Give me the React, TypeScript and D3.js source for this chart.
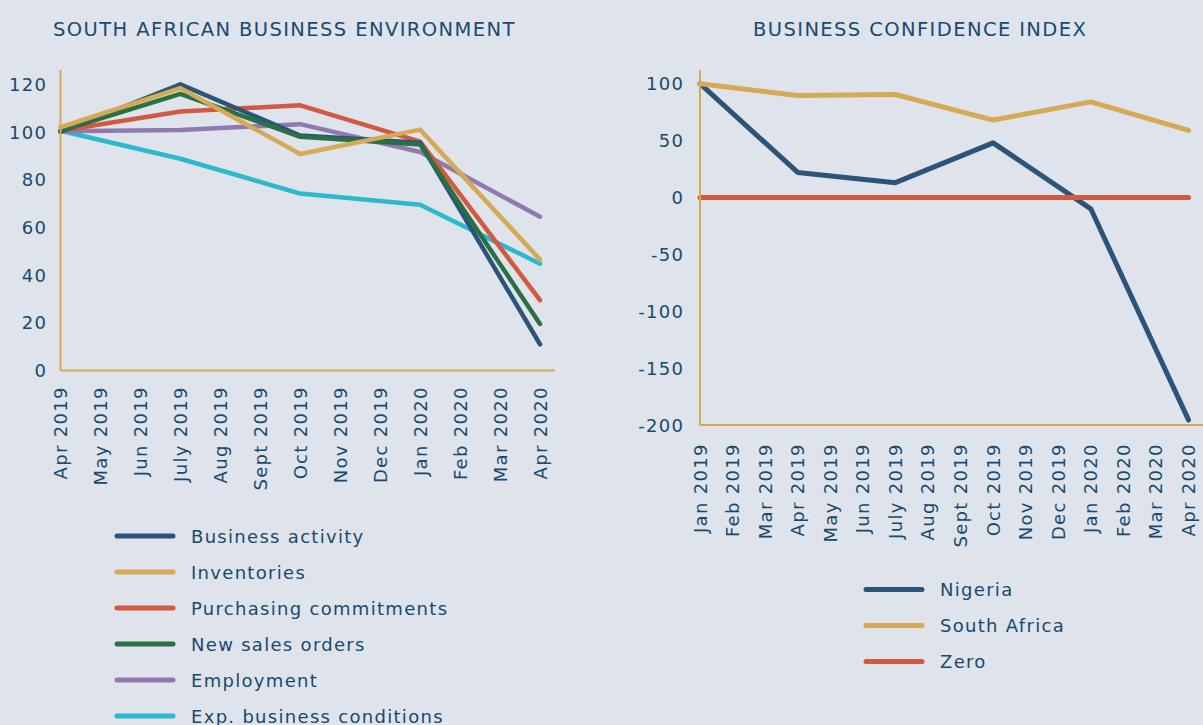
import React from "react";
import * as d3 from "d3";

const leftMonths = ["Apr 2019","May 2019","Jun 2019","July 2019","Aug 2019","Sept 2019","Oct 2019","Nov 2019","Dec 2019","Jan 2020","Feb 2020","Mar 2020","Apr 2020"];
const leftTicks = [0, 20, 40, 60, 80, 100, 120];
const businessActivity = [100, null, null, 120, null, null, 98.5, null, null, 95.5, null, null, 11];
const inventories = [102, null, null, 118.4, null, null, 90.8, null, null, 101, null, null, 46.5];
const purchasing = [100.5, null, null, 108.6, null, null, 111.2, null, null, 96, null, null, 29.5];
const newSales = [100.5, null, null, 116, null, null, 98, null, null, 94.8, null, null, 19.5];
const employment = [100.3, null, null, 100.8, null, null, 103.3, null, null, 91.6, null, null, 64.5];
const expConditions = [100.5, null, null, 88.8, null, null, 74.2, null, null, 69.5, null, null, 44.8];
const leftSeriesNames = ["Business activity","Inventories","Purchasing commitments","New sales orders","Employment","Exp. business conditions"];

const rightMonths = ["Jan 2019","Feb 2019","Mar 2019","Apr 2019","May 2019","Jun 2019","July 2019","Aug 2019","Sept 2019","Oct 2019","Nov 2019","Dec 2019","Jan 2020","Feb 2020","Mar 2020","Apr 2020"];
const rightTicks = [-200, -150, -100, -50, 0, 50, 100];
const nigeria = [100, null, null, 22, null, null, 13, null, null, 48, null, null, -10, null, null, -195.5];
const southAfrica = [100, null, null, 89.5, null, null, 90.5, null, null, 68, null, null, 84, null, null, 59];
const zero = [0, 0, 0, 0, 0, 0, 0, 0, 0, 0, 0, 0, 0, 0, 0, 0];
const rightSeriesNames = ["Nigeria", "South Africa", "Zero"];

const C = {
  bg: "#dfe3eb",
  text: "#184a70",
  axis: "#d4aa56",
  blue: "#2c5479",
  gold: "#d4aa56",
  red: "#d15a40",
  green: "#2a7045",
  purple: "#9179b0",
  cyan: "#2bb9cd",
};
const FONT = "'DejaVu Sans', sans-serif";
const LS = 1.3;

type Pt = { x: string; v: number };

function pts(months: string[], vals: (number | null)[]): Pt[] {
  return months.map((m, i) => ({ x: m, v: vals[i] as number })).filter((d) => d.v !== null);
}

export default function App() {
  const xL = d3.scalePoint<string>().domain(leftMonths).range([60.5, 540]);
  const yL = d3.scaleLinear().domain([0, 126]).range([370.5, 70]);
  const lineL = d3.line<Pt>().x((d) => xL(d.x) as number).y((d) => yL(d.v));
  const leftSeries = [
    { name: leftSeriesNames[0], vals: businessActivity, color: C.blue },
    { name: leftSeriesNames[1], vals: inventories, color: C.gold },
    { name: leftSeriesNames[2], vals: purchasing, color: C.red },
    { name: leftSeriesNames[3], vals: newSales, color: C.green },
    { name: leftSeriesNames[4], vals: employment, color: C.purple },
    { name: leftSeriesNames[5], vals: expConditions, color: C.cyan },
  ];
  const drawOrderL = [5, 4, 2, 0, 3, 1];

  const xR = d3.scalePoint<string>().domain(rightMonths).range([700, 1188.5]);
  const yR = d3.scaleLinear().domain([-200, 112]).range([425, 70]);
  const lineR = d3.line<Pt>().x((d) => xR(d.x) as number).y((d) => yR(d.v));
  const rightSeries = [
    { name: rightSeriesNames[0], vals: nigeria, color: C.blue },
    { name: rightSeriesNames[1], vals: southAfrica, color: C.gold },
    { name: rightSeriesNames[2], vals: zero, color: C.red },
  ];

  return (
    <svg width={1203} height={725} style={{ position: "absolute", left: 0, top: 0, background: C.bg }} fontFamily={FONT}>
      <rect x={0} y={0} width={1203} height={725} fill={C.bg} />
      <text x={53} y={36} fontSize={19.5} letterSpacing={1.4} fill={C.text}>SOUTH AFRICAN BUSINESS ENVIRONMENT</text>
      <text x={753} y={36} fontSize={19.5} letterSpacing={1.4} fill={C.text}>BUSINESS CONFIDENCE INDEX</text>

      <g>
        {leftTicks.map((t) => (
          <text key={t} x={46 + LS} y={yL(t)} fontSize={18} letterSpacing={LS} fill={C.text} textAnchor="end" dominantBaseline="central">{t}</text>
        ))}
        {leftMonths.map((m) => (
          <text key={m} transform={`translate(${xL(m)},${385 + LS}) rotate(-90)`} fontSize={18} letterSpacing={LS} fill={C.text} textAnchor="end" dominantBaseline="central">{m}</text>
        ))}
        {drawOrderL.map((i) => {
          const s = leftSeries[i];
          return (
            <path key={s.name} d={lineL(pts(leftMonths, s.vals)) || ""} fill="none" stroke={s.color} strokeWidth={4.5} strokeLinejoin="round" strokeLinecap="round" />
          );
        })}
        <line x1={60.5} x2={60.5} y1={70} y2={370.5} stroke={C.axis} strokeWidth={2} />
        <line x1={60.5} x2={555} y1={370.5} y2={370.5} stroke={C.axis} strokeWidth={2} />
        {leftSeries.map((s, i) => (
          <g key={s.name} transform={`translate(0,${536 + i * 36})`}>
            <line x1={117} x2={173} y1={0} y2={0} stroke={s.color} strokeWidth={5} strokeLinecap="round" />
            <text x={191} y={0} fontSize={18} letterSpacing={LS} fill={C.text} dominantBaseline="central">{s.name}</text>
          </g>
        ))}
      </g>

      <g>
        {rightTicks.map((t) => (
          <text key={t} x={683 + LS} y={yR(t)} fontSize={18} letterSpacing={LS} fill={C.text} textAnchor="end" dominantBaseline="central">{t}</text>
        ))}
        {rightMonths.map((m) => (
          <text key={m} transform={`translate(${xR(m)},${442 + LS}) rotate(-90)`} fontSize={18} letterSpacing={LS} fill={C.text} textAnchor="end" dominantBaseline="central">{m}</text>
        ))}
        {rightSeries.map((s) => (
          <path key={s.name} d={lineR(pts(rightMonths, s.vals)) || ""} fill="none" stroke={s.color} strokeWidth={5} strokeLinejoin="round" strokeLinecap="round" />
        ))}
        <line x1={700} x2={700} y1={70} y2={425} stroke={C.axis} strokeWidth={2} />
        <line x1={700} x2={1203} y1={425} y2={425} stroke={C.axis} strokeWidth={2} />
        {rightSeries.map((s, i) => (
          <g key={s.name} transform={`translate(0,${589.5 + i * 36})`}>
            <line x1={866} x2={922} y1={0} y2={0} stroke={s.color} strokeWidth={5} strokeLinecap="round" />
            <text x={940} y={0} fontSize={18} letterSpacing={LS} fill={C.text} dominantBaseline="central">{s.name}</text>
          </g>
        ))}
      </g>
    </svg>
  );
}
